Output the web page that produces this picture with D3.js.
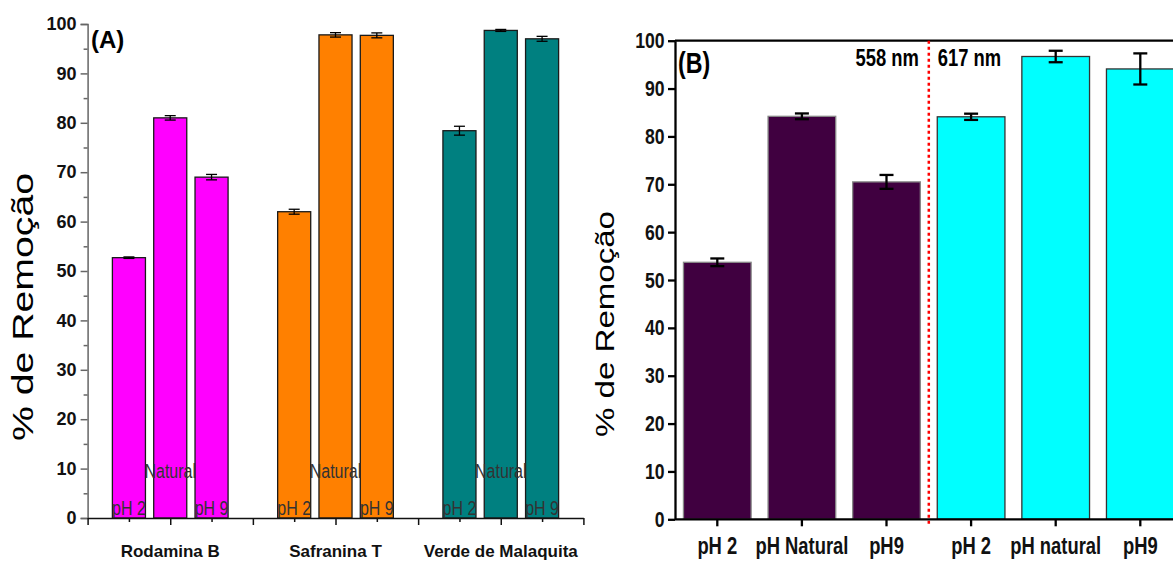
<!DOCTYPE html>
<html>
<head>
<meta charset="utf-8">
<script src="https://cdn.jsdelivr.net/npm/d3@7"></script>
<style>
  body { margin: 0; background: #fff; }
  svg { display: block; }
</style>
</head>
<body>
<svg id="chart" width="1173" height="562"></svg>
<script>
// panel A data
const categories = ['Rodamina B', 'Safranina T', 'Verde de Malaquita'];
const conditionsA = ['pH 2', 'Natural', 'pH 9'];
const rodaminaB = [52.7, 81.0, 69.0];
const safraninaT = [62.0, 97.8, 97.7];
const verdeMalaquita = [78.4, 98.7, 97.0];
const rodaminaErr = [0.15, 0.45, 0.55];
const safraninaErr = [0.5, 0.45, 0.5];
const verdeErr = [0.9, 0.2, 0.5];
const colorsA = ['#ff00ff', '#ff8000', '#008080'];

// panel B data
const labelsB = ['pH 2', 'pH Natural', 'pH9', 'pH 2', 'pH natural', 'pH9'];
const wavelengthB = ['558 nm', '558 nm', '558 nm', '617 nm', '617 nm', '617 nm'];
const valuesB = [53.7, 84.2, 70.5, 84.1, 96.7, 94.1];
const errorsB = [0.8, 0.6, 1.45, 0.65, 1.2, 3.25];
const colorsB = {'558 nm': '#400040', '617 nm': '#00ffff'};

const yTicks = d3.range(0, 101, 10);
const yMinor = d3.range(5, 100, 10);

const arial = "'Liberation Sans', Arial, sans-serif";
const squeeze = 0.8; // fake a narrow face by scaling Liberation Sans

const svg = d3.select('#chart');

// narrow text at a point
function narrowText(parent, x, y, size, bold, txt) {
  return parent.append('text')
    .attr('transform', `translate(${x},${y}) scale(${squeeze},1)`)
    .attr('font-family', arial)
    .attr('font-weight', bold ? 'bold' : 'normal')
    .attr('font-size', size)
    .text(txt);
}

// ---------- panel A ----------
const seriesA = [rodaminaB, safraninaT, verdeMalaquita];
const errA = [rodaminaErr, safraninaErr, verdeErr];
const rowsA = [];
categories.forEach((c, gi) => {
  conditionsA.forEach((k, ci) => {
    rowsA.push({cat: c, cond: k, value: seriesA[gi][ci], err: errA[gi][ci], color: colorsA[gi]});
  });
});

const xA = d3.scaleBand().domain(categories).range([87.6, 583.4]).padding(0);
const xInA = d3.scalePoint().domain(conditionsA).range([0, xA.bandwidth()]).padding(1);
const barWA = xInA.step() * 0.8;
const yA = d3.scaleLinear().domain([0, 100]).range([518, 24]);
const slotA = d3.scaleLinear().domain([0, 12]).range(xA.range());
const cxA = d => xA(d.cat) + xInA(d.cond);

const gA = svg.append('g');

gA.selectAll('rect.bar')
  .data(rowsA)
  .enter()
  .append('rect')
  .attr('x', d => cxA(d) - barWA / 2)
  .attr('y', d => yA(d.value))
  .attr('width', barWA)
  .attr('height', d => yA(0) - yA(d.value))
  .attr('fill', d => d.color)
  .attr('stroke', '#1a1a1a')
  .attr('stroke-width', 1.3);

const errGA = gA.selectAll('g.err')
  .data(rowsA)
  .enter()
  .append('g')
  .attr('stroke', '#000')
  .attr('stroke-width', 1.3);
errGA.append('line')
  .attr('x1', cxA).attr('x2', cxA)
  .attr('y1', d => yA(d.value + d.err))
  .attr('y2', d => yA(d.value - d.err));
[1, -1].forEach(s => {
  errGA.append('line')
    .attr('x1', d => cxA(d) - 5.5)
    .attr('x2', d => cxA(d) + 5.5)
    .attr('y1', d => yA(d.value + s * d.err))
    .attr('y2', d => yA(d.value + s * d.err));
});

// in-bar condition labels
rowsA.forEach(d => {
  narrowText(gA, cxA(d), d.cond === 'Natural' ? 478 : 515, 20, false, d.cond)
    .attr('text-anchor', 'middle')
    .attr('fill', '#333');
});

// y axis A
const axA = gA.append('g')
  .attr('transform', `translate(${xA.range()[0]},0)`)
  .call(d3.axisLeft(yA).tickValues(yTicks).tickSize(7).tickPadding(4));
axA.append('g')
  .call(d3.axisLeft(yA).tickValues(yMinor).tickSize(4).tickFormat(''))
  .select('.domain').remove();
axA.selectAll('path, line').attr('stroke', '#666').attr('stroke-width', 1.5);
axA.selectAll('text')
  .attr('font-family', arial)
  .attr('font-weight', 'bold')
  .attr('font-size', 18)
  .attr('fill', '#111');

// x axis A
const axXA = gA.append('g')
  .attr('transform', `translate(0,${yA(0)})`)
  .call(d3.axisBottom(slotA).tickValues(d3.range(0, 13, 2)).tickSize(7).tickFormat('').tickSizeOuter(0));
axXA.append('g')
  .call(d3.axisBottom(slotA).tickValues(d3.range(1, 12, 2)).tickSize(4).tickFormat(''))
  .select('.domain').remove();
axXA.selectAll('path, line').attr('stroke', '#111').attr('stroke-width', 1.5);

gA.selectAll('text.cat')
  .data(categories)
  .enter()
  .append('text')
  .attr('x', d => xA(d) + xA.bandwidth() / 2)
  .attr('y', 557)
  .attr('text-anchor', 'middle')
  .attr('font-family', arial)
  .attr('font-weight', 'bold')
  .attr('font-size', 17)
  .attr('fill', '#111')
  .text(d => d);

gA.append('text')
  .attr('x', 91)
  .attr('y', 48)
  .attr('font-family', arial)
  .attr('font-weight', 'bold')
  .attr('font-size', 24)
  .text('(A)');

gA.append('text')
  .attr('transform', 'translate(33,307) rotate(-90)')
  .attr('text-anchor', 'middle')
  .attr('font-family', arial)
  .attr('font-size', 29)
  .attr('textLength', 268)
  .attr('lengthAdjust', 'spacingAndGlyphs')
  .text('% de Remoção');

// ---------- panel B ----------
const idxB = d3.range(labelsB.length);
const xB = d3.scaleBand().domain(idxB).range([675, 675 + 6 * 84.6]).paddingInner(0.2).paddingOuter(0.1);
const yB = d3.scaleLinear().domain([0, 100]).range([519.3, 40.7]);
const cx = i => xB(i) + xB.bandwidth() / 2;

const gB = svg.append('g');

// top frame
gB.append('line')
  .attr('x1', xB.range()[0]).attr('x2', 1173)
  .attr('y1', yB(100)).attr('y2', yB(100))
  .attr('stroke', '#000').attr('stroke-width', 2.2);

gB.selectAll('rect.bar')
  .data(idxB)
  .enter()
  .append('rect')
  .attr('x', i => xB(i))
  .attr('y', i => yB(valuesB[i]))
  .attr('width', xB.bandwidth())
  .attr('height', i => yB(0) - yB(valuesB[i]))
  .attr('fill', i => colorsB[wavelengthB[i]])
  .attr('stroke', i => wavelengthB[i] === '558 nm' ? '#888' : '#333')
  .attr('stroke-width', 1.3);

const errGB = gB.selectAll('g.err')
  .data(idxB)
  .enter()
  .append('g')
  .attr('stroke', '#000')
  .attr('stroke-width', 2.3);
errGB.append('line')
  .attr('x1', cx).attr('x2', cx)
  .attr('y1', i => yB(valuesB[i] + errorsB[i]))
  .attr('y2', i => yB(valuesB[i] - errorsB[i]));
[1, -1].forEach(s => {
  errGB.append('line')
    .attr('x1', i => cx(i) - 7)
    .attr('x2', i => cx(i) + 7)
    .attr('y1', i => yB(valuesB[i] + s * errorsB[i]))
    .attr('y2', i => yB(valuesB[i] + s * errorsB[i]));
});

// separator between wavelengths
const sepX = (cx(2) + cx(3)) / 2;
gB.append('line')
  .attr('x1', sepX).attr('x2', sepX)
  .attr('y1', yB(100)).attr('y2', yB(0) + 5)
  .attr('stroke', '#ff0000')
  .attr('stroke-width', 2.5)
  .attr('stroke-dasharray', '3,3');

narrowText(gB, sepX - 10, 66, 23, true, wavelengthB[0]).attr('text-anchor', 'end');
narrowText(gB, sepX + 9, 66, 23, true, wavelengthB[3]);

const axB = gB.append('g')
  .attr('transform', `translate(${xB.range()[0]},0)`)
  .call(d3.axisLeft(yB).tickValues(yTicks).tickSize(7).tickPadding(6).tickSizeOuter(0));
const axXB = gB.append('g')
  .attr('transform', `translate(0,${yB(0)})`)
  .call(d3.axisBottom(xB).tickSize(7).tickPadding(11).tickSizeOuter(0).tickFormat(i => labelsB[i]));
[axB, axXB].forEach(ax => {
  ax.selectAll('path, line').attr('stroke', '#000').attr('stroke-width', 2.3);
  ax.selectAll('text')
    .attr('font-family', arial)
    .attr('font-weight', 'bold')
    .attr('fill', '#111')
    .attr('transform', `scale(${squeeze},1)`);
});
axB.selectAll('text').attr('font-size', 22);
axXB.selectAll('text').attr('font-size', 23);
axXB.select('.domain').attr('d', `M${xB.range()[0]},0H1173`);

narrowText(gB, 678, 73, 29, true, '(B)');

gB.append('text')
  .attr('transform', 'translate(614,324) rotate(-90)')
  .attr('text-anchor', 'middle')
  .attr('font-family', arial)
  .attr('font-size', 25)
  .attr('textLength', 226)
  .attr('lengthAdjust', 'spacingAndGlyphs')
  .text('% de Remoção');
</script>
</body>
</html>
